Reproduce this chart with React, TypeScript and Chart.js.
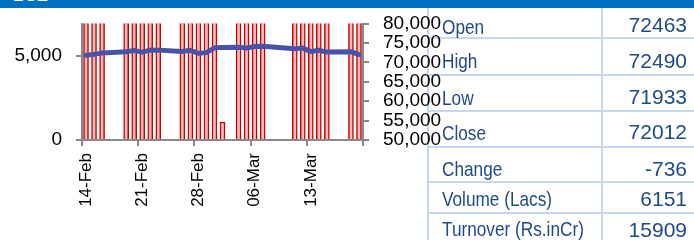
import React, { useEffect, useRef } from "react";
import { Chart, registerables } from "chart.js";

Chart.register(...registerables);

// ---- data ----
const dates = [
  "14-Feb", "15-Feb", "16-Feb", "17-Feb", "18-Feb", "19-Feb", "20-Feb", "21-Feb",
  "22-Feb", "23-Feb", "24-Feb", "25-Feb", "26-Feb", "27-Feb", "28-Feb", "29-Feb",
  "01-Mar", "02-Mar", "03-Mar", "04-Mar", "05-Mar", "06-Mar", "07-Mar", "08-Mar",
  "09-Mar", "10-Mar", "11-Mar", "12-Mar", "13-Mar", "14-Mar", "15-Mar", "16-Mar",
  "17-Mar", "18-Mar", "19-Mar",
];

// bars (left axis) – most are clipped above the axis maximum, values estimated
const volume: (number | null)[] = [
  9800, 10200, 11500, null, null, 9600, 10800, 11900,
  12400, 9100, null, null, 8700, 10300, 11800, 19500,
  12600, 1070, null, 13200, 12100, 14400, 11700, null,
  null, null, 10900, 13800, 16500, 15200, 21800, null,
  null, 9400, 15909,
];

// line (right axis) – index close
const closeValues: (number | null)[] = [
  71823, 72050, 72427, null, null, 72708, 73057, 72623,
  73158, 73143, null, null, 72790, 73095, 72305, 72500,
  73745, 73806, null, 73872, 73677, 74086, 74119, null,
  null, null, 73503, 73668, 72762, 73097, 72643, null,
  null, 72748, 72012,
];

const leftMin = 0;
const leftMax = 6940;
const leftTicks = [0, 5000];
const rightMin = 50000;
const rightMax = 80000;
const rightTicks = [50000, 55000, 60000, 65000, 70000, 75000, 80000];
const labelEvery = 7;

const tableLabels = ["Open", "High", "Low", "Close", "Change", "Volume (Lacs)", "Turnover (Rs.inCr)"];
const tableValues = ["72463", "72490", "71933", "72012", "-736", "6151", "15909"];
const headerText = "BSE";

// ---- layout (not data) ----
const W = 694;
const H = 240;
const labelCenters = [27, 61, 97.5, 133, 169, 198.5, 229];
const valueCenters = [25, 60.5, 96.7, 132, 169, 199, 230];
const hLines = [37, 74, 110, 146, 181, 212];
const GREY = "#898989";
const TEXT_BLUE = "#1f4a85";
const FONT = "'Liberation Sans', Arial, sans-serif";

export default function App() {
  const ref = useRef<HTMLCanvasElement | null>(null);

  useEffect(() => {
    if (!ref.current) return;
    const tickGrid = {
      drawOnChartArea: false,
      drawTicks: true,
      tickLength: 6,
      color: GREY,
      lineWidth: 2,
    };
    const fmt = (v: any) => Number(v).toLocaleString("en-US");
    const chart = new Chart(ref.current, {
      type: "bar",
      data: {
        labels: dates,
        datasets: [
          {
            type: "line",
            label: "Close",
            data: closeValues,
            yAxisID: "y1",
            borderColor: "#4852a6",
            borderWidth: 5,
            pointRadius: 0,
            spanGaps: true,
            tension: 0,
            borderJoinStyle: "round",
            borderCapStyle: "round",
            order: 0,
          } as any,
          {
            type: "bar",
            label: "Volume",
            data: volume,
            yAxisID: "y",
            backgroundColor: "#f0bcbc",
            borderColor: "#c80000",
            borderWidth: 1.5,
            barThickness: 5,
            clip: 0,
            order: 1,
          } as any,
        ],
      },
      options: {
        responsive: false,
        maintainAspectRatio: false,
        animation: false,
        devicePixelRatio: 1,
        layout: { padding: { top: 22, right: W - 363 - 80, bottom: 0, left: 0 } },
        plugins: { legend: { display: false }, tooltip: { enabled: false } },
        scales: {
          x: {
            offset: true,
            grid: {
              ...tickGrid,
              offset: true,
              color: (ctx: any) =>
                ctx.index === undefined || ctx.index % labelEvery === 0 ? GREY : "rgba(0,0,0,0)",
            },
            border: { display: true, color: GREY, width: 2 },
            ticks: {
              autoSkip: false,
              minRotation: 90,
              maxRotation: 90,
              padding: 7,
              color: "#000",
              font: { family: FONT, size: 17 },
              callback: (_v: any, i: number) => (i % labelEvery === 0 ? dates[i] : ""),
            },
            afterFit: (s: any) => {
              s.height = H - 140;
            },
          },
          y: {
            position: "left",
            min: leftMin,
            max: leftMax,
            grid: tickGrid,
            border: { display: true, color: GREY, width: 2 },
            ticks: {
              autoSkip: false,
              padding: 14,
              color: "#000",
              font: { family: FONT, size: 19, lineHeight: 1 },
              callback: fmt,
            },
            afterBuildTicks: (s: any) => {
              s.ticks = leftTicks.map((value) => ({ value }));
            },
            afterFit: (s: any) => {
              s.width = 82;
            },
          },
          y1: {
            position: "right",
            min: rightMin,
            max: rightMax,
            grid: tickGrid,
            border: { display: true, color: GREY, width: 2 },
            ticks: {
              autoSkip: false,
              padding: 14,
              color: "#000",
              font: { family: FONT, size: 19, lineHeight: 1 },
              callback: fmt,
            },
            afterBuildTicks: (s: any) => {
              s.ticks = rightTicks.map((value) => ({ value }));
            },
            afterFit: (s: any) => {
              s.width = 80;
            },
          },
        },
      } as any,
    });
    return () => chart.destroy();
  }, []);

  return (
    <div
      style={{
        position: "fixed",
        left: 0,
        top: 0,
        width: W,
        height: H,
        background: "#fff",
        overflow: "hidden",
        fontFamily: FONT,
      }}
    >
      {/* table grid lines */}
      <div style={{ position: "absolute", left: 427, top: 8, width: 2, height: H - 8, background: "#c6d7ee" }} />
      <div style={{ position: "absolute", left: 601, top: 8, width: 2, height: H - 8, background: "#c6d7ee" }} />
      {hLines.map((y, i) => (
        <div key={"h" + i} style={{ position: "absolute", left: 427, top: y, width: W - 427, height: 2, background: "#c6d7ee" }} />
      ))}

      <canvas ref={ref} width={W} height={H} style={{ position: "absolute", left: 0, top: 0, width: W, height: H }} />

      {/* header bar */}
      <div style={{ position: "absolute", left: 0, top: 0, width: W, height: 8, background: "#0070c0", overflow: "hidden" }}>
        <span
          style={{
            position: "absolute",
            left: 13,
            top: -14,
            fontSize: 17,
            lineHeight: "20px",
            fontWeight: "bold",
            color: "#fff",
            whiteSpace: "nowrap",
          }}
        >
          {headerText}
        </span>
      </div>

      {/* table text */}
      {tableLabels.map((t, i) => (
        <div
          key={"l" + i}
          style={{
            position: "absolute",
            left: 442,
            top: labelCenters[i] - 12,
            fontSize: 21,
            lineHeight: "24px",
            color: TEXT_BLUE,
            whiteSpace: "nowrap",
            transform: "scaleX(0.82)",
            transformOrigin: "left center",
          }}
        >
          {t}
        </div>
      ))}
      {tableValues.map((t, i) => (
        <div
          key={"v" + i}
          style={{
            position: "absolute",
            right: W - 687,
            top: valueCenters[i] - 12,
            fontSize: 21,
            lineHeight: "24px",
            color: TEXT_BLUE,
            whiteSpace: "nowrap",
            textAlign: "right",
          }}
        >
          {t}
        </div>
      ))}
    </div>
  );
}
